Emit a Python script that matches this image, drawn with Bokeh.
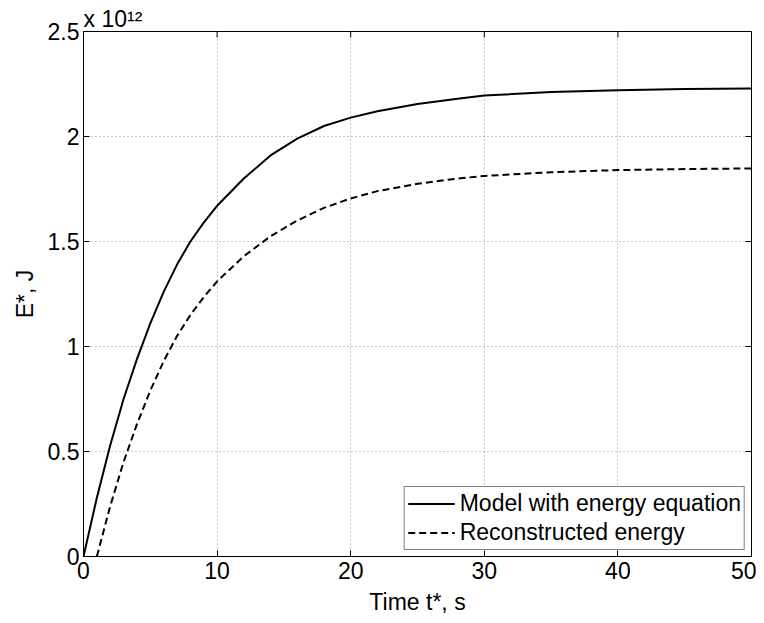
import math
from bokeh.plotting import figure
from bokeh.models import (FixedTicker, Range1d, Legend, LegendItem, Title)
from bokeh.embed import file_html
from bokeh.resources import INLINE

# ---- data (energy in units of 1e12 J) ----
t_model = [0, 1, 2, 3, 4, 5, 6, 7, 8, 9, 10, 12, 14, 16, 18, 20, 22, 25, 28,
           30, 35, 40, 45, 50]
e_model = [0.0, 0.28, 0.53, 0.75, 0.94, 1.11, 1.26, 1.39, 1.50, 1.59, 1.67,
           1.80, 1.91, 1.99, 2.05, 2.09, 2.12, 2.155, 2.18, 2.195, 2.212,
           2.22, 2.226, 2.229]
t_recon = [1, 2, 3, 4, 5, 6, 7, 8, 9, 10, 12, 14, 16, 18, 20, 22, 25, 28, 30,
           35, 40, 45, 50]
e_recon = [0.0, 0.24, 0.45, 0.63, 0.79, 0.93, 1.05, 1.15, 1.235, 1.31, 1.43,
           1.525, 1.60, 1.66, 1.705, 1.74, 1.775, 1.80, 1.812, 1.83, 1.84,
           1.845, 1.848]
series_names = ["Model with energy equation", "Reconstructed energy"]
x_ticks = [0, 10, 20, 30, 40, 50]
x_tick_labels = ["0", "10", "20", "30", "40", "50"]
y_ticks = [0, 0.5, 1, 1.5, 2, 2.5]
y_tick_labels = ["0", "0.5", "1", "1.5", "2", "2.5"]
x_label = "Time t*, s"
y_label = "E*, J"
y_multiplier = "x 10\u00b9\u00b2"

FONT = "Liberation Sans"
FS = "23px"

p = figure(frame_width=668, frame_height=525, output_backend="svg",
           toolbar_location=None, title=None,
           x_range=Range1d(x_ticks[0], x_ticks[-1]),
           y_range=Range1d(y_ticks[0], y_ticks[-1]),
           min_border_left=83, min_border_top=31,
           min_border_right=5, min_border_bottom=60)
p.background_fill_color = "white"
p.border_fill_color = "white"
p.outline_line_color = "black"
p.outline_line_width = 1

xt = FixedTicker(ticks=x_ticks)
yt = FixedTicker(ticks=y_ticks)

for ax, tk, labs in ((p.xaxis[0], xt, x_tick_labels), (p.yaxis[0], yt, y_tick_labels)):
    ax.ticker = tk
    ax.major_label_overrides = {t: l for t, l in zip(tk.ticks, labs)}
    ax.major_tick_in = 6
    ax.major_tick_out = 0
    ax.minor_tick_in = 0
    ax.minor_tick_out = 0
    ax.axis_line_color = "black"
    ax.major_tick_line_color = "black"
    ax.major_label_text_font = FONT
    ax.major_label_text_font_size = FS
    ax.major_label_text_color = "black"
    ax.axis_label_text_font = FONT
    ax.axis_label_text_font_size = FS
    ax.axis_label_text_font_style = "normal"
    ax.axis_label_text_color = "black"
p.xaxis[0].major_label_standoff = 5
p.yaxis[0].major_label_standoff = 4
p.xaxis[0].axis_label = x_label
p.yaxis[0].axis_label = y_label
p.xaxis[0].axis_label_standoff = 7
p.yaxis[0].axis_label_standoff = 7

for g in (p.xgrid[0], p.ygrid[0]):
    g.grid_line_color = "#8c8c8c"
    g.grid_line_dash = "1 3"
    g.grid_line_width = 1

# inward tick marks on the top and right edges (half of each dash is clipped)
p.scatter(x_ticks[1:-1], [y_ticks[-1]] * (len(x_ticks) - 2), marker="dash",
          size=12, angle=math.pi / 2, line_color="black", line_width=1)
p.scatter([x_ticks[-1]] * (len(y_ticks) - 2), y_ticks[1:-1], marker="dash",
          size=12, line_color="black", line_width=1)

r1 = p.line(t_model, e_model, line_color="black", line_width=2)
r2 = p.line(t_recon, e_recon, line_color="black", line_width=2,
            line_dash="7 4")

legend = Legend(items=[LegendItem(label=series_names[0], renderers=[r1]),
                       LegendItem(label=series_names[1], renderers=[r2])],
                location="bottom_right", margin=6, padding=3, spacing=2,
                label_text_font=FONT, label_text_font_size=FS,
                label_text_color="black", label_height=25, glyph_height=25,
                glyph_width=47, label_standoff=5,
                border_line_color="black", border_line_width=1,
                background_fill_color="white", background_fill_alpha=1.0)
p.add_layout(legend)

p.add_layout(Title(text=y_multiplier, align="left", text_font=FONT,
                   text_font_size=FS, text_font_style="normal",
                   text_color="black", standoff=0, offset=0), "above")

open("out.html", "w").write(file_html(p, INLINE))
